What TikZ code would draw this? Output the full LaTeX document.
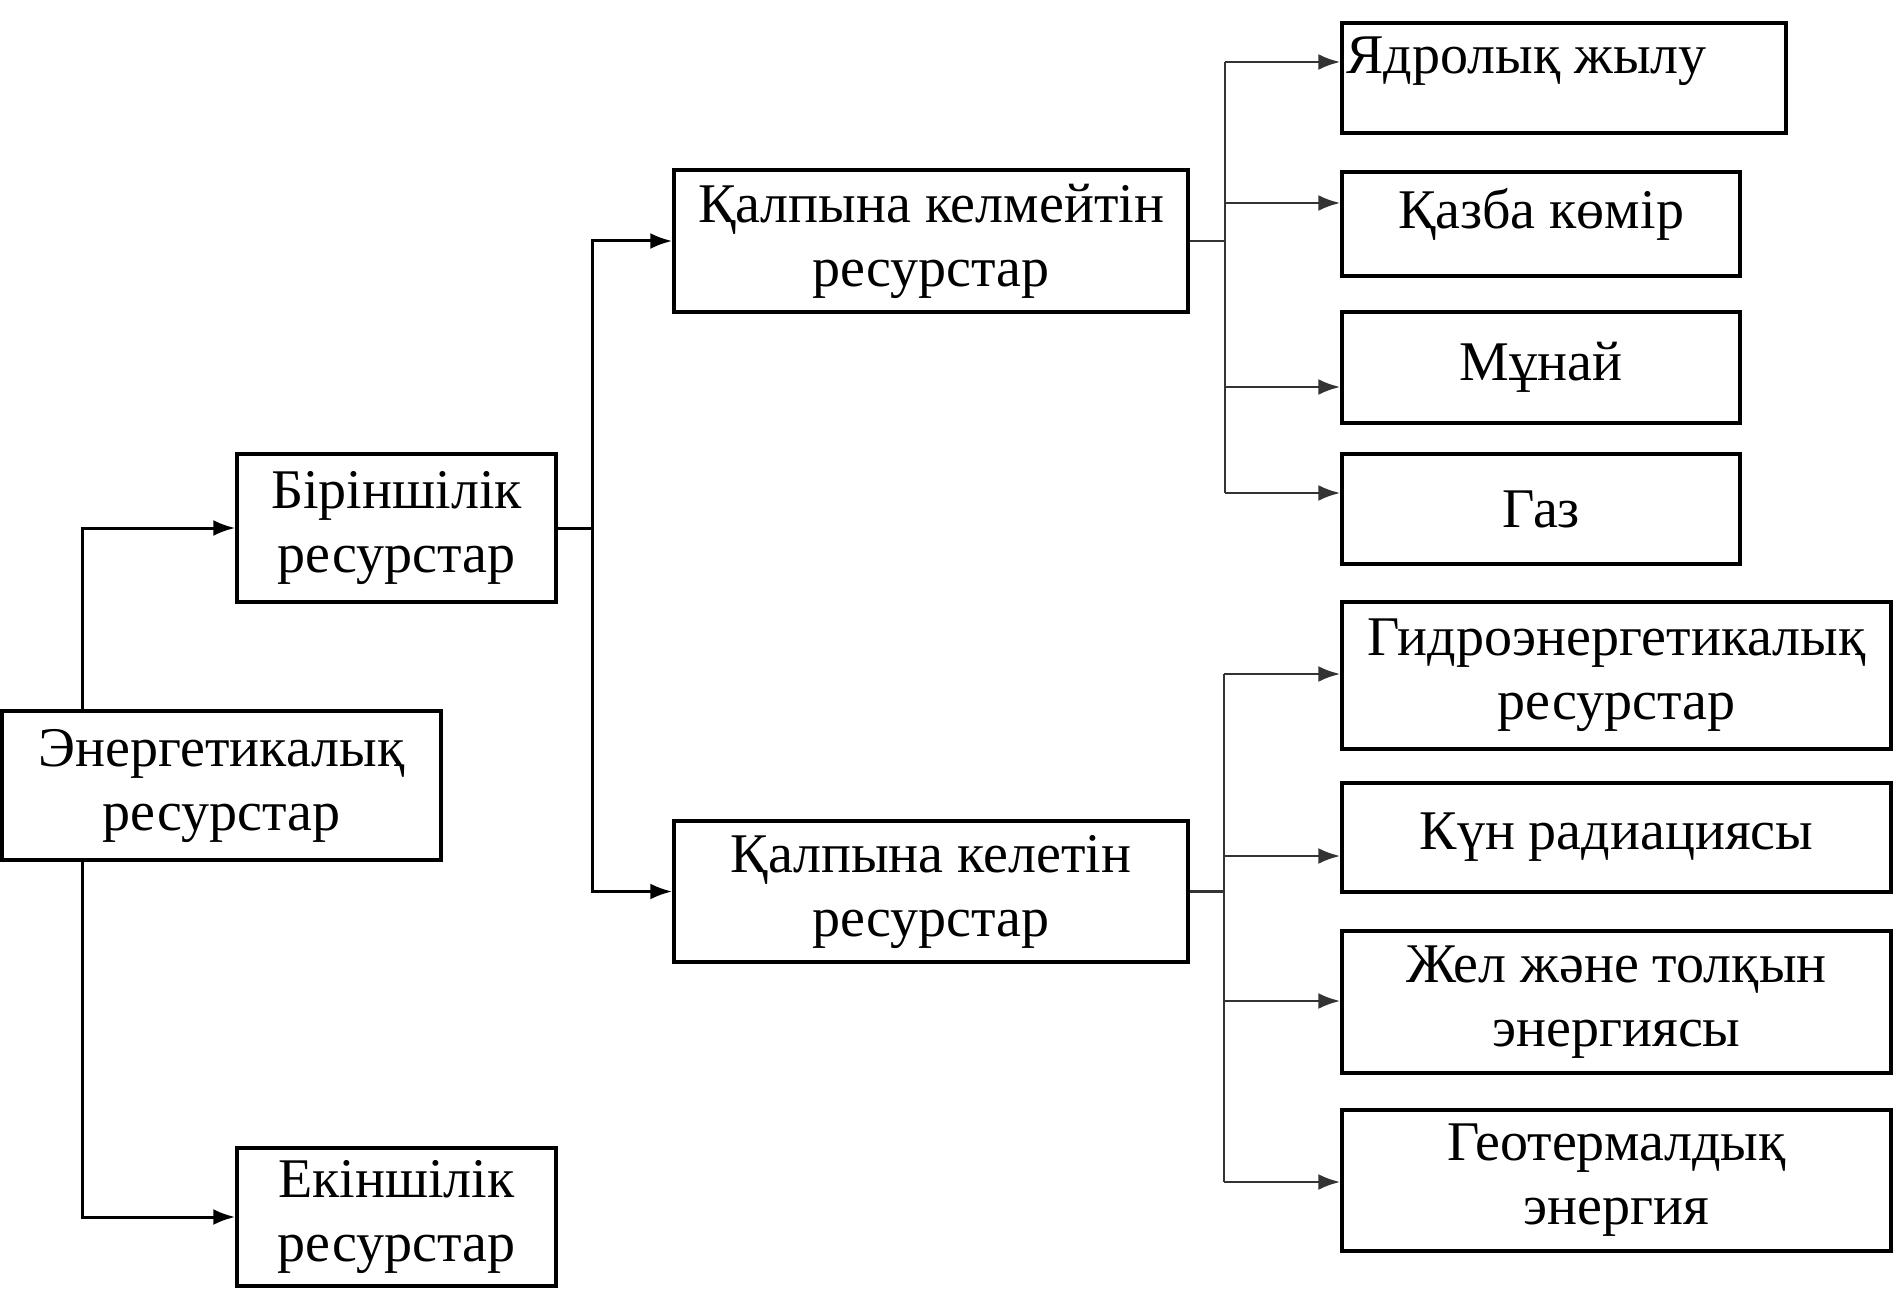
\documentclass[tikz,border=0pt]{standalone}
\usepackage{fontspec}
\setmainfont{Liberation Serif}
\usetikzlibrary{arrows.meta,calc}
\begin{document}
\begin{tikzpicture}[x=1pt,y=-1pt]
\tikzset{
  box/.style={draw, line width=3.5pt, inner sep=0pt, align=center, font=\fontsize{56}{64}\selectfont},
  conn/.style={line width=3pt, black},
  connr/.style={line width=2.8pt, black!80},
  arr/.style={conn, -{Latex[length=22pt,width=16pt]}},
  arrr/.style={connr, -{Latex[length=22pt,width=16pt]}},
}
\useasboundingbox (0,0) rectangle (1895,1289);
% boxes
\node[box, minimum width=439pt, minimum height=149pt] (en) at (221.5,785.5) {Энергетикалық\\ресурстар};
\node[box, minimum width=319pt, minimum height=148pt] (bir) at (396.5,528) {Біріншілік\\ресурстар};
\node[box, minimum width=319pt, minimum height=138pt] (eki) at (396.5,1217) {Екіншілік\\ресурстар};
\node[box, minimum width=514pt, minimum height=142pt] (kmt) at (931,241) {Қалпына келмейтін\\ресурстар};
\node[box, minimum width=514pt, minimum height=141pt] (kt) at (931,891.5) {Қалпына келетін\\ресурстар};
\node[box, minimum width=444pt, minimum height=110pt] (ya) at (1564,78) {};
\node[anchor=base west, inner sep=0pt, font=\fontsize{56}{64}\selectfont] (yatxt) at ($(ya.north west)+(6,52)$) {Ядролық жылу};
\node[box, minimum width=398pt, minimum height=104pt, text depth=32pt] (kaz) at (1541,224) {Қазба көмір};
\node[box, minimum width=398pt, minimum height=111pt] (mun) at (1541,367.5) {Мұнай};
\node[box, minimum width=398pt, minimum height=110pt] (gaz) at (1541,509) {Газ};
\node[box, minimum width=549pt, minimum height=147pt] (gid) at (1616.5,675.5) {Гидроэнергетикалық\\ресурстар};
\node[box, minimum width=549pt, minimum height=109pt] (kun) at (1616.5,837.5) {Күн радиациясы};
\node[box, minimum width=549pt, minimum height=142pt] (zhel) at (1616.5,1002) {Жел және толқын\\энергиясы};
\node[box, minimum width=549pt, minimum height=141pt] (geo) at (1616.5,1180.5) {Геотермалдық\\энергия};
% bus x positions
\coordinate (ex) at (82,0);
\coordinate (bx) at (592,0);
\coordinate (b1) at (1225,0);
\coordinate (b2) at (1224,0);
% left connectors
\draw[arr] (en.north -| ex) |- (bir.west);
\draw[arr] (en.south -| ex) |- (eki.west);
\draw[conn] (bir.east) -- (bir.east -| bx);
\draw[arr] (bir.east -| bx) |- (kmt.west);
\draw[arr] (bir.east -| bx) |- (kt.west);
% arrow targets on the right
\coordinate (aya) at ([yshift=16pt]ya.west);
\coordinate (akaz) at ([yshift=21pt]kaz.west);
\coordinate (amun) at ([yshift=-19.5pt]mun.west);
\coordinate (agaz) at ([yshift=16pt]gaz.west);
\coordinate (agid) at ([yshift=1.5pt]gid.west);
\coordinate (akun) at ([yshift=-18.5pt]kun.west);
\coordinate (azhel) at ([yshift=1pt]zhel.west);
\coordinate (ageo) at ([yshift=-1.5pt]geo.west);
% upper right group
\draw[connr] (kmt.east) -- (kmt.east -| b1);
\draw[connr] (aya -| b1) -- (agaz -| b1);
\foreach \a in {aya,akaz,amun,agaz} \draw[arrr] (\a -| b1) -- (\a);
% lower right group
\draw[connr] (kt.east) -- (kt.east -| b2);
\draw[connr] (agid -| b2) -- (ageo -| b2);
\foreach \a in {agid,akun,azhel,ageo} \draw[arrr] (\a -| b2) -- (\a);
\end{tikzpicture}
\end{document}
